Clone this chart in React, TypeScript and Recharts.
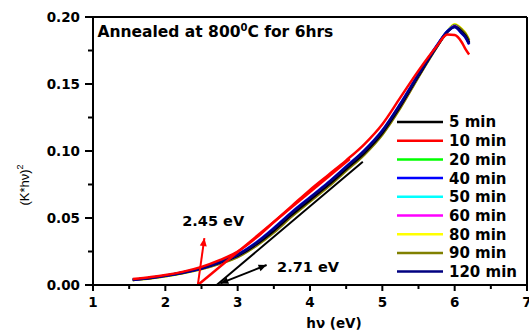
import React from 'react';
import { LineChart, Line, XAxis, YAxis, ReferenceLine, ReferenceDot, Legend } from 'recharts';

// photon energy (eV) sampled along the curves
const hv = [1.55, 1.8, 2.0, 2.25, 2.5, 2.75, 3.0, 3.25, 3.5, 3.75, 4.0, 4.25, 4.5, 4.75, 5.0, 5.25, 5.5, 5.75, 5.9, 6.0, 6.1, 6.15, 6.2];

// (K*hv)^2 for each annealing time
const min5 = [0.0038, 0.0052, 0.0068, 0.0092, 0.0122, 0.0165, 0.0218, 0.030, 0.0405, 0.0525, 0.0635, 0.0745, 0.0865, 0.0985, 0.1135, 0.1335, 0.156, 0.1775, 0.189, 0.193, 0.189, 0.186, 0.181];
const min10 = [0.0045, 0.006, 0.0075, 0.010, 0.0135, 0.0185, 0.025, 0.035, 0.047, 0.059, 0.071, 0.082, 0.093, 0.105, 0.120, 0.140, 0.160, 0.178, 0.187, 0.1865, 0.181, 0.176, 0.172];
const min20 = [0.0039, 0.0054, 0.0069, 0.0094, 0.0124, 0.0168, 0.0222, 0.0305, 0.0412, 0.0532, 0.0642, 0.0752, 0.0872, 0.0992, 0.1142, 0.1342, 0.1565, 0.178, 0.1895, 0.1935, 0.1885, 0.1855, 0.1805];
const min40 = [0.004, 0.0055, 0.007, 0.0095, 0.0125, 0.0172, 0.0228, 0.0315, 0.0425, 0.0545, 0.0655, 0.0765, 0.0885, 0.1005, 0.1155, 0.1355, 0.1575, 0.1785, 0.1895, 0.1925, 0.1875, 0.1845, 0.1795];
const min50 = [0.0039, 0.0054, 0.0069, 0.0093, 0.0123, 0.0167, 0.022, 0.0302, 0.041, 0.053, 0.064, 0.075, 0.087, 0.099, 0.114, 0.134, 0.1563, 0.1778, 0.1893, 0.1932, 0.1882, 0.1852, 0.1802];
const min60 = [0.0039, 0.0054, 0.0069, 0.0093, 0.0123, 0.0166, 0.0219, 0.0301, 0.0408, 0.0528, 0.0638, 0.0748, 0.0868, 0.0988, 0.1138, 0.1338, 0.1562, 0.1777, 0.1892, 0.1932, 0.1885, 0.1855, 0.1805];
const min80 = [0.0037, 0.0051, 0.0066, 0.009, 0.012, 0.016, 0.021, 0.0292, 0.0395, 0.0515, 0.0625, 0.0735, 0.0855, 0.0975, 0.1125, 0.1325, 0.1555, 0.1775, 0.1895, 0.1945, 0.191, 0.188, 0.183];
const min90 = [0.0037, 0.0051, 0.0066, 0.009, 0.0119, 0.0158, 0.0208, 0.029, 0.0392, 0.0512, 0.0622, 0.0732, 0.0852, 0.0972, 0.1122, 0.1322, 0.1552, 0.1772, 0.1892, 0.194, 0.1905, 0.1875, 0.1825];
const min120 = [0.004, 0.0055, 0.007, 0.0095, 0.0125, 0.017, 0.0225, 0.031, 0.042, 0.054, 0.065, 0.076, 0.088, 0.100, 0.115, 0.135, 0.157, 0.178, 0.189, 0.1925, 0.188, 0.185, 0.180];

const series = [
  { key: 'm5', name: '5 min', values: min5, color: '#000000' },
  { key: 'm10', name: '10 min', values: min10, color: '#ff0000' },
  { key: 'm20', name: '20 min', values: min20, color: '#00ff00' },
  { key: 'm40', name: '40 min', values: min40, color: '#0000ff' },
  { key: 'm50', name: '50 min', values: min50, color: '#00ffff' },
  { key: 'm60', name: '60 min', values: min60, color: '#ff00ff' },
  { key: 'm80', name: '80 min', values: min80, color: '#ffff00' },
  { key: 'm90', name: '90 min', values: min90, color: '#808000' },
  { key: 'm120', name: '120 min', values: min120, color: '#000080' },
];
// drawing order (red on top, as in the figure)
const drawOrder = ['m80', 'm90', 'm20', 'm50', 'm60', 'm5', 'm40', 'm120', 'm10'];

// band gap fits
const fit10 = [{ x: 2.45, y: 0 }, { x: 4.55, y: 0.094 }];
const fit5 = [{ x: 2.71, y: 0 }, { x: 4.73, y: 0.092 }];
const arrow245 = [{ x: 2.45, y: 0.0005 }, { x: 2.54, y: 0.035 }];
const arrow271 = [{ x: 3.4, y: 0.0149 }, { x: 2.76, y: 0.0012 }];

const xTicks = [1, 1.5, 2, 2.5, 3, 3.5, 4, 4.5, 5, 5.5, 6, 6.5, 7];
const yTicks = [0, 0.025, 0.05, 0.075, 0.1, 0.125, 0.15, 0.175, 0.2];

const rows = hv.map((x, i) => {
  const r: any = { x };
  series.forEach((s) => { r[s.key] = s.values[i]; });
  return r;
});

const FONT = '"DejaVu Sans", sans-serif';
const TICK_SIZE = 6;
const TICK_MARGIN = 2;

const XTick = (props: any) => {
  const { x, y, payload } = props;
  const major = Number.isInteger(payload.value);
  const y0 = y - TICK_SIZE - TICK_MARGIN;
  return (
    <g>
      <line x1={x} x2={x} y1={y0} y2={y0 + (major ? 6 : 4)} stroke="#000" strokeWidth={2} />
      {major && (
        <text x={x} y={y0 + 22} textAnchor="middle" fontFamily={FONT} fontWeight="bold" fontSize={13.5} fill="#000">
          {payload.value}
        </text>
      )}
    </g>
  );
};

const YTick = (props: any) => {
  const { x, y, payload } = props;
  const major = Math.round(payload.value * 1000) % 50 === 0;
  const x0 = x + TICK_SIZE + TICK_MARGIN;
  return (
    <g>
      <line x1={x0} x2={x0 - (major ? 8 : 5)} y1={y} y2={y} stroke="#000" strokeWidth={2} />
      {major && (
        <text x={x0 - 13} y={y} dy="0.36em" textAnchor="end" fontFamily={FONT} fontWeight="bold" fontSize={13.5} fill="#000">
          {payload.value.toFixed(2)}
        </text>
      )}
    </g>
  );
};

const arrowShape = (both: boolean) => (p: any) => {
  const { x1, y1, x2, y2, stroke } = p;
  const head = (ax: number, ay: number, bx: number, by: number) => {
    const a = Math.atan2(ay - by, ax - bx);
    const L = 8, W = 3.5;
    const px = ax - L * Math.cos(a), py = ay - L * Math.sin(a);
    return `${ax},${ay} ${px - W * Math.sin(a)},${py + W * Math.cos(a)} ${px + W * Math.sin(a)},${py - W * Math.cos(a)}`;
  };
  return (
    <g>
      <line x1={x1} y1={y1} x2={x2} y2={y2} stroke={stroke} strokeWidth={2} />
      <polygon points={head(x2, y2, x1, y1)} fill={stroke} />
      {both && <polygon points={head(x1, y1, x2, y2)} fill={stroke} />}
    </g>
  );
};

const Legendbox = () => (
  <svg width={134} height={176}>
    {series.map((s, i) => (
      <g key={s.key}>
        <line x1={2} x2={48} y1={10 + i * 18.7} y2={10 + i * 18.7} stroke={s.color} strokeWidth={2.5} />
        <text x={54} y={10 + i * 18.7} dy="0.36em" fontFamily={FONT} fontWeight="bold" fontSize={15} fill="#000">
          {s.name}
        </text>
      </g>
    ))}
  </svg>
);

const textShape = (content: React.ReactNode, size: number) => (p: any) => (
  <text x={p.cx} y={p.cy} fontFamily={FONT} fontWeight="bold" fontSize={size} fill="#000">
    {content}
  </text>
);

export default function App() {
  return (
    <div style={{ position: 'absolute', left: 0, top: 0, background: '#fff' }}>
      <LineChart width={529} height={331} data={rows} margin={{ top: 17, right: 2, left: 0, bottom: 0 }}>
        <XAxis
          type="number"
          dataKey="x"
          domain={[1, 7]}
          ticks={xTicks}
          interval={0}
          height={46}
          tickSize={TICK_SIZE}
          tickMargin={TICK_MARGIN}
          tickLine={false}
          tick={<XTick />}
          axisLine={{ stroke: '#000', strokeWidth: 2 }}
          label={(p: any) => {
            const vb = p.viewBox || { x: 93, y: 285, width: 434, height: 46 };
            return (
              <text x={vb.x + vb.width / 2 + 24} y={vb.y + 43} textAnchor="middle" fontFamily={FONT} fontWeight="bold" fontSize={13.5} fill="#000">
                hν (eV)
              </text>
            );
          }}
        />
        <YAxis
          type="number"
          domain={[0, 0.2]}
          ticks={yTicks}
          interval={0}
          width={93}
          tickSize={TICK_SIZE}
          tickMargin={TICK_MARGIN}
          tickLine={false}
          tick={<YTick />}
          axisLine={{ stroke: '#000', strokeWidth: 2 }}
          label={(p: any) => {
            const vb = p.viewBox || { x: 0, y: 17, width: 93, height: 268 };
            const cx = vb.x + 24;
            const cy = vb.y + vb.height / 2 + 34;
            return (
              <text x={cx} y={cy} transform={`rotate(-90, ${cx}, ${cy})`} textAnchor="middle" dy="0.36em" fontFamily='"Liberation Sans", Arial, sans-serif' fontSize={13} fill="#000">
                (K*hν)<tspan dy="-6" fontSize={9}>2</tspan>
              </text>
            );
          }}
        />
        <ReferenceLine y={0.2} stroke="#000" strokeWidth={2} />
        <ReferenceLine x={7} stroke="#000" strokeWidth={2} />
        {drawOrder.map((k) => {
          const s = series.find((q) => q.key === k)!;
          return (
            <Line key={k} type="monotone" dataKey={k} name={s.name} stroke={s.color} strokeWidth={2.5} dot={false} isAnimationActive={false} />
          );
        })}
        <ReferenceLine segment={fit5} stroke="#000" strokeWidth={2} />
        <ReferenceLine segment={fit10} stroke="#ff0000" strokeWidth={2.5} />
        <ReferenceLine segment={arrow245} stroke="#ff0000" shape={arrowShape(false)} />
        <ReferenceLine segment={arrow271} stroke="#000" shape={arrowShape(true)} />
        <ReferenceDot x={2.234} y={0.044} r={0} shape={textShape('2.45 eV', 14.5)} />
        <ReferenceDot x={3.545} y={0.0097} r={0} shape={textShape('2.71 eV', 14.5)} />
        <ReferenceDot
          x={1.062}
          y={0.1851}
          r={0}
          shape={textShape(
            <>
              Annealed at 800<tspan dy="-6" fontSize={10}>0</tspan>
              <tspan dy="6">C for 6hrs</tspan>
            </>,
            15.5,
          )}
        />
        <Legend
          layout="horizontal"
          verticalAlign="middle"
          align="center"
          wrapperStyle={{ left: 395, top: 112, width: 134 }}
          content={() => <Legendbox />}
        />
      </LineChart>
    </div>
  );
}
